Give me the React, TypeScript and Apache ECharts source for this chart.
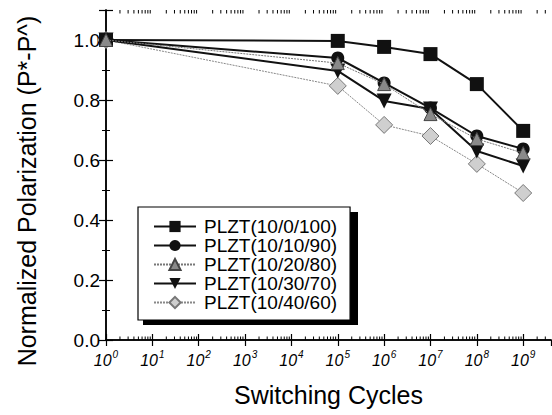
import React, { useEffect, useRef } from "react";
import * as echarts from "echarts";

// Switching cycles (exponent of 10) and normalized polarization values
const cycleExponents = [0, 5, 6, 7, 8, 9];
const decadeTicks = [0, 1, 2, 3, 4, 5, 6, 7, 8, 9];
const minorMultipliers = [2, 3, 4, 5, 6, 7, 8, 9];
const seriesNames = [
  "PLZT(10/0/100)",
  "PLZT(10/10/90)",
  "PLZT(10/20/80)",
  "PLZT(10/30/70)",
  "PLZT(10/40/60)",
];
const plzt0 = [1.0, 0.997, 0.977, 0.953, 0.853, 0.697];
const plzt10 = [1.0, 0.94, 0.857, 0.773, 0.68, 0.637];
const plzt20 = [1.0, 0.923, 0.853, 0.753, 0.67, 0.623];
const plzt30 = [1.0, 0.897, 0.797, 0.77, 0.63, 0.58];
const plzt40 = [1.0, 0.847, 0.717, 0.68, 0.587, 0.49];
const yTickLabels = ["0.0", "0.2", "0.4", "0.6", "0.8", "1.0"];

const FONT = "'Liberation Sans', Arial, sans-serif";

function pairs(vals: number[]) {
  return cycleExponents.map((e, i) => [e, vals[i]]);
}

export default function App() {
  const ref = useRef<HTMLDivElement>(null);
  useEffect(() => {
    if (!ref.current) return;
    const chart = echarts.init(ref.current, undefined, { renderer: "svg" });
    const gridLeft = 106;
    const gridTop = 10;
    const gridRight = 1;
    const gridBottom = 75;
    const xMax = 9.6;
    const yMax = 1.1;

    const option: any = {
      animation: false,
      backgroundColor: "#ffffff",
      textStyle: { fontFamily: FONT },
      grid: { left: gridLeft, top: gridTop, right: gridRight, bottom: gridBottom, show: false },
      legend: {
        orient: "vertical",
        left: 138,
        top: 207,
        data: seriesNames,
        itemWidth: 42,
        itemHeight: 14,
        itemGap: 0,
        padding: [10, 13, 8, 15],
        backgroundColor: "#ffffff",
        borderColor: "#000000",
        borderWidth: 1.2,
        borderRadius: 0,
        z: 10,
        textStyle: { fontFamily: FONT, fontSize: 19, lineHeight: 18.7, color: "#000", padding: [0, 0, 0, 3] },
      },
      graphic: [
        {
          type: "rect",
          left: 143,
          top: 212,
          shape: { width: 215, height: 113 },
          style: { fill: "#000" },
          z: 1,
        },
      ],
      xAxis: [
        {
          type: "value",
          min: 0,
          max: xMax,
          interval: 1,
          position: "bottom",
          name: "Switching Cycles",
          nameLocation: "middle",
          nameGap: 42,
          nameTextStyle: { fontFamily: FONT, fontSize: 25, color: "#000" },
          axisLine: { show: true, lineStyle: { color: "#000", width: 1.5 } },
          axisTick: { show: true, inside: true, length: 6, lineStyle: { color: "#000", width: 1.2 } },
          splitLine: { show: false },
          axisLabel: {
            margin: 12,
            showMaxLabel: false,
            color: "#000",
            formatter: (v: number) => `{b|10}{s|${Math.round(v)}}`,
            rich: {
              b: { fontFamily: FONT, fontSize: 16, lineHeight: 16, fontStyle: "italic", color: "#000", verticalAlign: "bottom" },
              s: { fontFamily: FONT, fontSize: 10, lineHeight: 10, fontStyle: "italic", color: "#000", verticalAlign: "bottom", padding: [0, 0, 9, 1] },
            },
          },
        },
        {
          type: "value",
          min: 0,
          max: xMax,
          interval: 1,
          position: "top",
          axisLine: { show: true, lineStyle: { color: "#000", width: 1.5 } },
          axisTick: { show: true, inside: true, length: 6, lineStyle: { color: "#000", width: 1.2 } },
          axisLabel: { show: false },
          splitLine: { show: false },
        },
      ],
      yAxis: [
        {
          type: "value",
          min: 0,
          max: yMax,
          interval: 0.2,
          position: "left",
          name: "Normalized Polarization (P*-P^)",
          nameLocation: "middle",
          nameGap: 67,
          nameRotate: 90,
          nameTextStyle: { fontFamily: FONT, fontSize: 25, color: "#000", padding: [0, 32, 0, 0] },
          axisLine: { show: true, lineStyle: { color: "#000", width: 1.5 } },
          axisTick: { show: true, inside: true, length: 7, lineStyle: { color: "#000", width: 1.2 } },
          minorTick: { show: true, splitNumber: 2, length: 4, lineStyle: { color: "#000", width: 1 } },
          splitLine: { show: false },
          minorSplitLine: { show: false },
          axisLabel: {
            margin: 6,
            showMaxLabel: false,
            color: "#000",
            fontFamily: FONT,
            fontSize: 19,
            formatter: (v: number) => {
              const idx = Math.round(v / 0.2);
              return Math.abs(v - idx * 0.2) < 1e-6 ? yTickLabels[idx] ?? "" : "";
            },
          },
        },
        {
          type: "value",
          min: 0,
          max: yMax,
          interval: 0.2,
          position: "right",
          axisLine: { show: true, lineStyle: { color: "#000", width: 1.5 } },
          axisTick: { show: true, inside: true, length: 7, lineStyle: { color: "#000", width: 1.2 } },
          minorTick: { show: true, splitNumber: 2, length: 4, lineStyle: { color: "#000", width: 1 } },
          axisLabel: { show: false },
          splitLine: { show: false },
        },
      ],
      series: [
        {
          type: "custom",
          name: "minorTicks",
          silent: true,
          xAxisIndex: 0,
          yAxisIndex: 0,
          data: decadeTicks.map((d) => [d]),
          renderItem: (params: any, api: any) => {
            const d = api.value(0);
            const children: any[] = [];
            minorMultipliers.forEach((m) => {
              const x = d + Math.log10(m);
              if (x > xMax) return;
              const pb = api.coord([x, 0]);
              const pt = api.coord([x, yMax]);
              children.push({
                type: "line",
                shape: { x1: pb[0], y1: pb[1], x2: pb[0], y2: pb[1] - 3.5 },
                style: { stroke: "#000", lineWidth: 1 },
              });
              children.push({
                type: "line",
                shape: { x1: pt[0], y1: pt[1], x2: pt[0], y2: pt[1] + 3.5 },
                style: { stroke: "#000", lineWidth: 1 },
              });
            });
            return { type: "group", children };
          },
          z: 1,
        },
        {
          type: "line",
          name: seriesNames[0],
          data: pairs(plzt0),
          symbol: "rect",
          symbolSize: 14,
          lineStyle: { color: "#111", width: 2 },
          itemStyle: { color: "#111", borderColor: "#111", borderWidth: 0 },
          z: 6,
        },
        {
          type: "line",
          name: seriesNames[1],
          data: pairs(plzt10),
          symbol: "circle",
          symbolSize: 13,
          lineStyle: { color: "#111", width: 2 },
          itemStyle: { color: "#111", borderColor: "#111", borderWidth: 0 },
          z: 5,
        },
        {
          type: "line",
          name: seriesNames[2],
          data: pairs(plzt20),
          symbol: "triangle",
          symbolSize: 13,
          lineStyle: { color: "#777", width: 1, type: [2, 1] },
          itemStyle: { color: "#8a8a8a", borderColor: "#444", borderWidth: 1 },
          z: 7,
        },
        {
          type: "line",
          name: seriesNames[3],
          data: pairs(plzt30),
          symbol: "triangle",
          symbolRotate: 180,
          symbolSize: 15,
          lineStyle: { color: "#111", width: 2 },
          itemStyle: { color: "#111", borderColor: "#111", borderWidth: 0 },
          z: 4,
        },
        {
          type: "line",
          name: seriesNames[4],
          data: pairs(plzt40),
          symbol: "diamond",
          symbolSize: 17,
          lineStyle: { color: "#888", width: 1, type: [2, 1] },
          itemStyle: { color: "#cfcfcf", borderColor: "#777", borderWidth: 1 },
          z: 3,
        },
      ],
    };
    chart.setOption(option);
    return () => chart.dispose();
  }, []);
  return <div ref={ref} style={{ width: 552, height: 415, position: "absolute", left: 0, top: 0 }} />;
}
